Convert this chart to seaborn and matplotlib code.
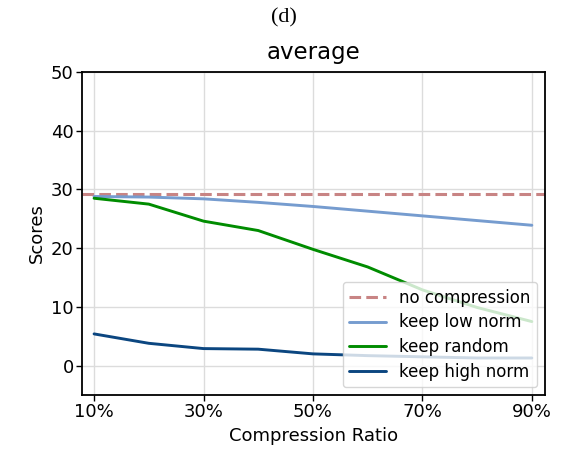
import matplotlib
matplotlib.use("Agg")
import matplotlib.pyplot as plt
import seaborn as sns
import pandas as pd
import numpy as np

ratios = [0.1, 0.2, 0.3, 0.4, 0.5, 0.6, 0.7, 0.8, 0.9]
no_compression = 29.3
keep_low_norm = [28.8, 28.7, 28.4, 27.8, 27.1, 26.3, 25.5, 24.7, 23.9]
keep_random = [28.5, 27.5, 24.6, 23.0, 19.8, 16.8, 12.9, 9.9, 7.5]
keep_high_norm = [5.4, 3.8, 2.9, 2.8, 2.0, 1.7, 1.5, 1.3, 1.3]
xtick_vals = [0.1, 0.3, 0.5, 0.7, 0.9]
xtick_labels = ["10%", "30%", "50%", "70%", "90%"]

sns.set_theme(style="whitegrid")
plt.rcParams["font.family"] = ["DejaVu Sans"]
plt.rcParams["text.color"] = "black"
plt.rcParams["axes.labelcolor"] = "black"
plt.rcParams["xtick.color"] = "black"
plt.rcParams["ytick.color"] = "black"

fig = plt.figure(figsize=(5.63, 4.57), dpi=100)
ax = fig.add_axes([0.1457, 0.1357, 0.8223, 0.7068])

df = pd.DataFrame({
    "ratio": ratios * 3,
    "score": keep_low_norm + keep_random + keep_high_norm,
    "method": ["keep low norm"] * 9 + ["keep random"] * 9 + ["keep high norm"] * 9,
})

ax.axhline(no_compression, color="#c88484", linestyle="--", linewidth=2.2, label="no compression", dashes=(3.8, 1.7))
palette = {"keep low norm": "#769ccf", "keep random": "#008c00", "keep high norm": "#0b4680"}
sns.lineplot(data=df, x="ratio", y="score", hue="method", palette=palette, linewidth=2.1, ax=ax)

ax.set_xlim(0.078, 0.924)
ax.set_ylim(-5, 50)
ax.set_xticks(xtick_vals)
ax.set_xticklabels(xtick_labels)
ax.set_yticks([0, 10, 20, 30, 40, 50])
ax.tick_params(axis="both", labelsize=13, length=4, width=1, color="black", labelcolor="black",
               direction="out", bottom=True, left=True, pad=2)
ax.grid(True, color="#dcdcdc", linewidth=1)
for s in ax.spines.values():
    s.set_color("black")
    s.set_linewidth(1.3)
ax.set_xlabel("Compression Ratio", fontsize=13, color="black")
ax.set_ylabel("Scores", fontsize=13, color="black")
ax.set_title("average", fontsize=16.5, pad=9, color="black")

handles, labels = ax.get_legend_handles_labels()
leg = ax.legend(handles, labels, loc="lower right", fontsize=12, framealpha=0.8,
                borderaxespad=0.45, handlelength=2.2, facecolor="white", edgecolor="#cccccc",
                labelspacing=0.4)
for t in leg.get_texts():
    t.set_color("black")

fig.text(0.505, 0.96, "(d)", ha="center", va="center", fontsize=16, family="Liberation Serif", color="black")

fig.savefig("out.png", dpi=100)
